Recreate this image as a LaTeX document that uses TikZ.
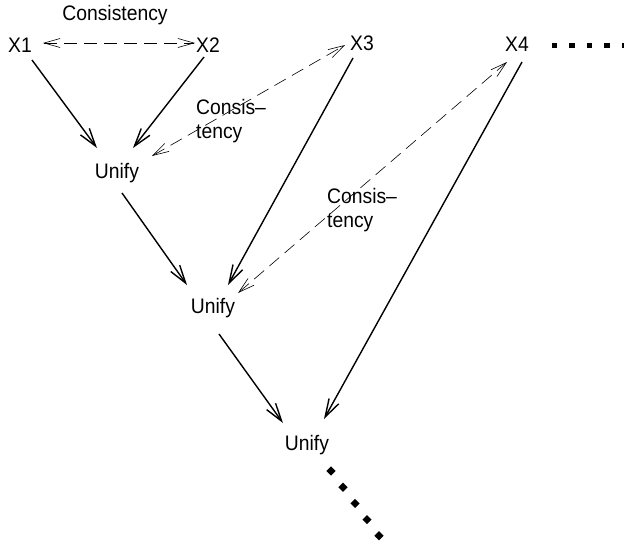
\documentclass[tikz,border=0pt]{standalone}
\usepackage{fontspec}
\setmainfont{Liberation Sans}[FakeStretch=0.92]
\usetikzlibrary{arrows.meta,calc}
\begin{document}
\begin{tikzpicture}[x=1pt,y=-1pt,
  lbl/.style={inner sep=0pt,font=\fontsize{21}{25}\selectfont},
  solidarrow/.style={line width=1.4pt,-{Straight Barb[length=18pt,width=11pt]}},
  consarrow/.style={line width=0.6pt,dash pattern=on 13pt off 7pt,
    {Straight Barb[length=16pt,width=9pt]}-{Straight Barb[length=16pt,width=9pt]}},
  sqdot/.style={fill=black,minimum size=5.5pt,inner sep=0pt,draw=none},
  dmdot/.style={fill=black,minimum size=6.5pt,inner sep=0pt,draw=none,rotate=45}]
\useasboundingbox (0,0) rectangle (624,546);
% nodes
\node[lbl] (C0) at (115,15) {Consistency};
\node[lbl] (X1) at (20,45) {X1};
\node[lbl] (X2) at (208,45) {X2};
\node[lbl] (X3) at (362,43) {X3};
\node[lbl] (X4) at (517,44) {X4};
\node[lbl] (U1) at (117,173) {Unify};
\node[lbl] (U2) at (213,308) {Unify};
\node[lbl] (U3) at (307,445) {Unify};
\node[lbl,align=left,anchor=west] (L1) at (196,121) {Consis–\\[-1pt]tency};
\node[lbl,align=left,anchor=west] (L2) at (327,210) {Consis–\\[-1pt]tency};
% consistency links
\draw[consarrow] ($(X1)+(23,-2)$) -- ($(X2)+(-13,-2)$);
\draw[consarrow] ($(U1)+(35,-17)$) -- ($(X3)+(-17,2)$);
\draw[consarrow] ($(U2)+(25,-15)$) -- ($(X4)+(-10,18)$);
% unification arrows
\draw[solidarrow] ($(X1)+(12,15)$) -- ($(U1)+(-20,-25)$);
\draw[solidarrow] ($(X2)+(-4,12)$) -- ($(U1)+(16,-25)$);
\draw[solidarrow] ($(X3)+(-9,15)$) -- ($(U2)+(15,-23)$);
\draw[solidarrow] ($(U1)+(5,20)$) -- ($(U2)+(-26,-23)$);
\draw[solidarrow] ($(U2)+(6,26)$) -- ($(U3)+(-24,-22)$);
\draw[solidarrow] ($(X4)+(5,18)$) -- ($(U3)+(17,-26)$);
% continuation dots
\foreach \i in {0,...,4} {
  \node[sqdot] (S\i) at ($(X4)+(37.5+17.5*\i,1.5)$) {};
  \node[dmdot] (D\i) at ($(U3)+(24+12*\i,26+16.2*\i)$) {};
}
\end{tikzpicture}
\end{document}
